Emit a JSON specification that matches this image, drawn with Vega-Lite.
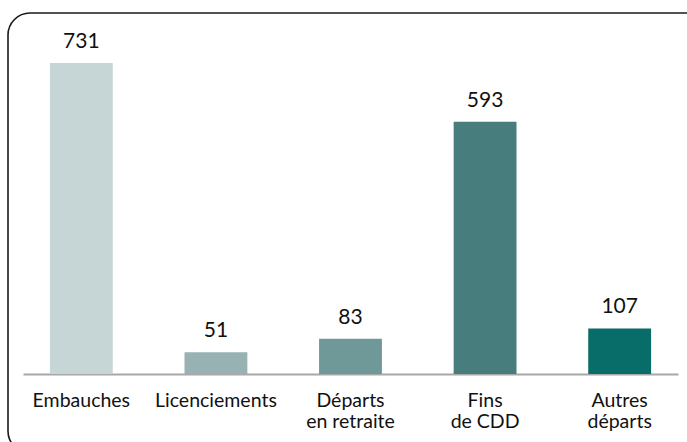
{
  "$schema": "https://vega.github.io/schema/vega-lite/v6.json",
  "autosize": {"type": "none"},
  "padding": {"left": 8, "top": 13, "right": 0, "bottom": 0},
  "width": 700,
  "height": 440,
  "background": "white",
  "config": {
    "view": {"stroke": "#1a1a1a", "strokeWidth": 1.6, "cornerRadius": 22},
    "font": "Lato"
  },
  "data": {
    "values": [
      {"cat": "Embauches", "value": 731, "color": "#c6d6d7"},
      {"cat": "Licenciements", "value": 51, "color": "#98b1b3"},
      {"cat": "Départs|en retraite", "value": 83, "color": "#6f9898"},
      {"cat": "Fins|de CDD", "value": 593, "color": "#477e7d"},
      {"cat": "Autres|départs", "value": 107, "color": "#086c68"}
    ]
  },
  "encoding": {
    "x": {
      "field": "cat",
      "type": "nominal",
      "sort": null,
      "scale": {"range": [15, 670], "paddingInner": 0.533, "paddingOuter": 0.2},
      "axis": {
        "title": null,
        "ticks": false,
        "grid": false,
        "labelAngle": 0,
        "labelExpr": "split(datum.label, '|')",
        "labelFont": "Lato",
        "labelFontSize": 19.5,
        "labelColor": "#111",
        "labelLineHeight": 21,
        "labelBaseline": "top",
        "labelPadding": 17,
        "domainColor": "#a8a8a8",
        "domainWidth": 2,
        "offset": -79
      }
    },
    "y": {
      "field": "value",
      "type": "quantitative",
      "scale": {"domain": [0, 731], "range": [361, 50], "nice": false, "zero": true},
      "axis": null
    }
  },
  "layer": [
    {
      "mark": {"type": "bar"},
      "encoding": {
        "color": {"field": "color", "type": "nominal", "scale": null, "legend": null}
      }
    },
    {
      "mark": {"type": "text", "baseline": "alphabetic", "dy": -15, "fontSize": 21, "font": "Lato", "color": "#111"},
      "encoding": {"text": {"field": "value", "type": "quantitative"}}
    }
  ]
}
